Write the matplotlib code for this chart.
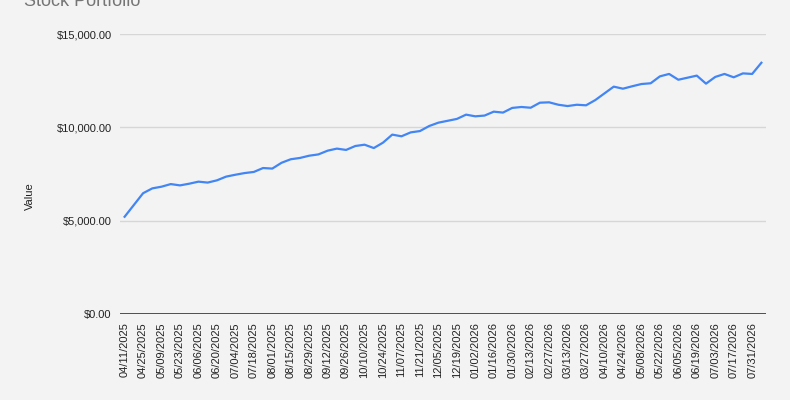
import pandas as pd
from matplotlib import pyplot as plt

# weekly portfolio value
values = [
    5210, 5840, 6470, 6730, 6820, 6960, 6890, 6980, 7090, 7040,
    7160, 7360, 7460, 7550, 7610, 7820, 7790, 8100, 8290, 8360,
    8480, 8550, 8750, 8860, 8790, 9000, 9070, 8890, 9180, 9610,
    9520, 9730, 9800, 10070, 10250, 10350, 10450, 10680, 10590, 10630,
    10840, 10790, 11040, 11090, 11050, 11320, 11340, 11210, 11140, 11210,
    11180, 11460, 11820, 12180, 12070, 12200, 12320, 12360, 12730, 12860,
    12550, 12660, 12770, 12340, 12700, 12860, 12680, 12890, 12860, 13460,
]
dates = pd.date_range("2025-04-11", periods=len(values), freq="7D")
date_labels = [d.strftime("%m/%d/%Y") for d in dates]
y_ticks = [0, 5000, 10000, 15000]
y_tick_labels = ["$0.00", "$5,000.00", "$10,000.00", "$15,000.00"]

plt.rcParams["font.family"] = ["Liberation Sans", "DejaVu Sans"]
bg = "#f3f3f3"

fig = plt.figure(figsize=(7.9, 4.0), dpi=100, facecolor=bg)
ax = fig.add_axes([120 / 790, 86 / 400, 646 / 790, 280 / 400], facecolor=bg)

xs = list(range(len(values)))
ax.plot(xs, values, color="#4285f4", linewidth=1.6, zorder=3)

ax.set_xlim(-0.5, len(values) - 0.5)
ax.set_ylim(0, 15000)
ax.set_yticks(y_ticks)
ax.set_yticklabels(y_tick_labels)
ax.set_xticks(xs[::2])
ax.set_xticklabels(date_labels[::2], rotation=90)

ax.grid(axis="y", color="#d6d6d6", linewidth=1)
ax.axhline(0, color="#333333", linewidth=1.2, zorder=4)
for s in ax.spines.values():
    s.set_visible(False)
ax.tick_params(axis="both", length=0, labelsize=8, labelcolor="#222222")
ax.tick_params(axis="x", pad=6)
ax.tick_params(axis="y", pad=6)

fig.text(30 / 790, 204 / 400, "Value", rotation=90, ha="center", va="center",
         fontsize=8, color="#222222")
fig.text(24 / 790, 394 / 400, "Stock Portfolio", ha="left", va="baseline",
         fontsize=13, color="#757575")

fig.savefig("out.png", dpi=100, facecolor=bg)
